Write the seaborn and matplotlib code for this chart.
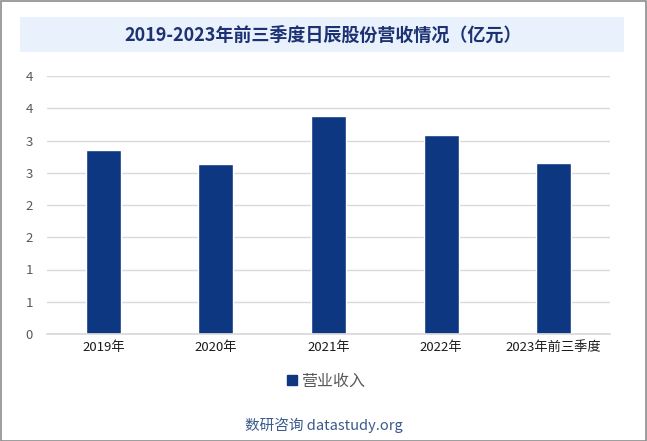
import numpy as np
import pandas as pd
import matplotlib
matplotlib.use('Agg')
import matplotlib.pyplot as plt
import seaborn as sns
from matplotlib.patches import Rectangle
from matplotlib.lines import Line2D

# Chart data
years = ['2019年', '2020年', '2021年', '2022年', '2023年前三季度']
revenue = [2.85, 2.63, 3.38, 3.08, 2.65]
series_name = '营业收入'
title = '2019-2023年前三季度日辰股份营收情况（亿元）'
source = '数研咨询 datastudy.org'

df = pd.DataFrame({'year': years, 'revenue': revenue})

sns.set_theme(style='white')
plt.rcParams['font.family'] = ['Noto Sans CJK SC', 'DejaVu Sans']

fig = plt.figure(figsize=(6.47, 4.41), dpi=100)
fig.patch.set_facecolor('white')
fig.patches.append(Rectangle((0.001, 0.001), 0.997, 0.997, transform=fig.transFigure,
                             fill=False, edgecolor='#8c8c8c', linewidth=1.2))

# title band
fig.patches.append(Rectangle((20 / 647, 1 - 52 / 441), 604 / 647, 35 / 441,
                             transform=fig.transFigure, facecolor='#e9f1fc', edgecolor='none'))
fig.text(0.5, 1 - 35 / 441, title, ha='center', va='center', fontsize=13,
         fontweight='bold', color='#1c3272')

ax = fig.add_axes([47 / 647, 1 - 334 / 441, 563 / 647, 258 / 441])
sns.barplot(data=df, x='year', y='revenue', color='#0e3782', width=0.31,
            saturation=1, ax=ax)

ax.set_ylim(0, 4)
ticks = np.arange(0, 4.01, 0.5)
ax.set_yticks(ticks)
ax.set_yticklabels([str(int(t + 0.5)) for t in ticks], color='#595959', fontsize=9.5)
ax.tick_params(axis='x', colors='#1a1a1a', labelsize=9.5, length=0, pad=5)
ax.tick_params(axis='y', length=0, pad=10)
ax.yaxis.grid(True, color='#d9d9d9', linewidth=1)
ax.set_axisbelow(True)
for s in ['top', 'right', 'left']:
    ax.spines[s].set_visible(False)
ax.spines['bottom'].set_color('#d9d9d9')
ax.set_xlabel('')
ax.set_ylabel('')

handle = Line2D([], [], marker='s', linestyle='none', color='#0e3782', markersize=7)
fig.legend([handle], [series_name], loc='center', bbox_to_anchor=(0.5, 1 - 381 / 441),
           frameon=False, fontsize=11.5, handletextpad=0.0, handlelength=1.2,
           labelcolor='#595959')

fig.text(0.5, 1 - 425 / 441, source, ha='center', va='center', fontsize=10.5,
         color='#3a5a8c')

fig.savefig('out.png', dpi=100)
